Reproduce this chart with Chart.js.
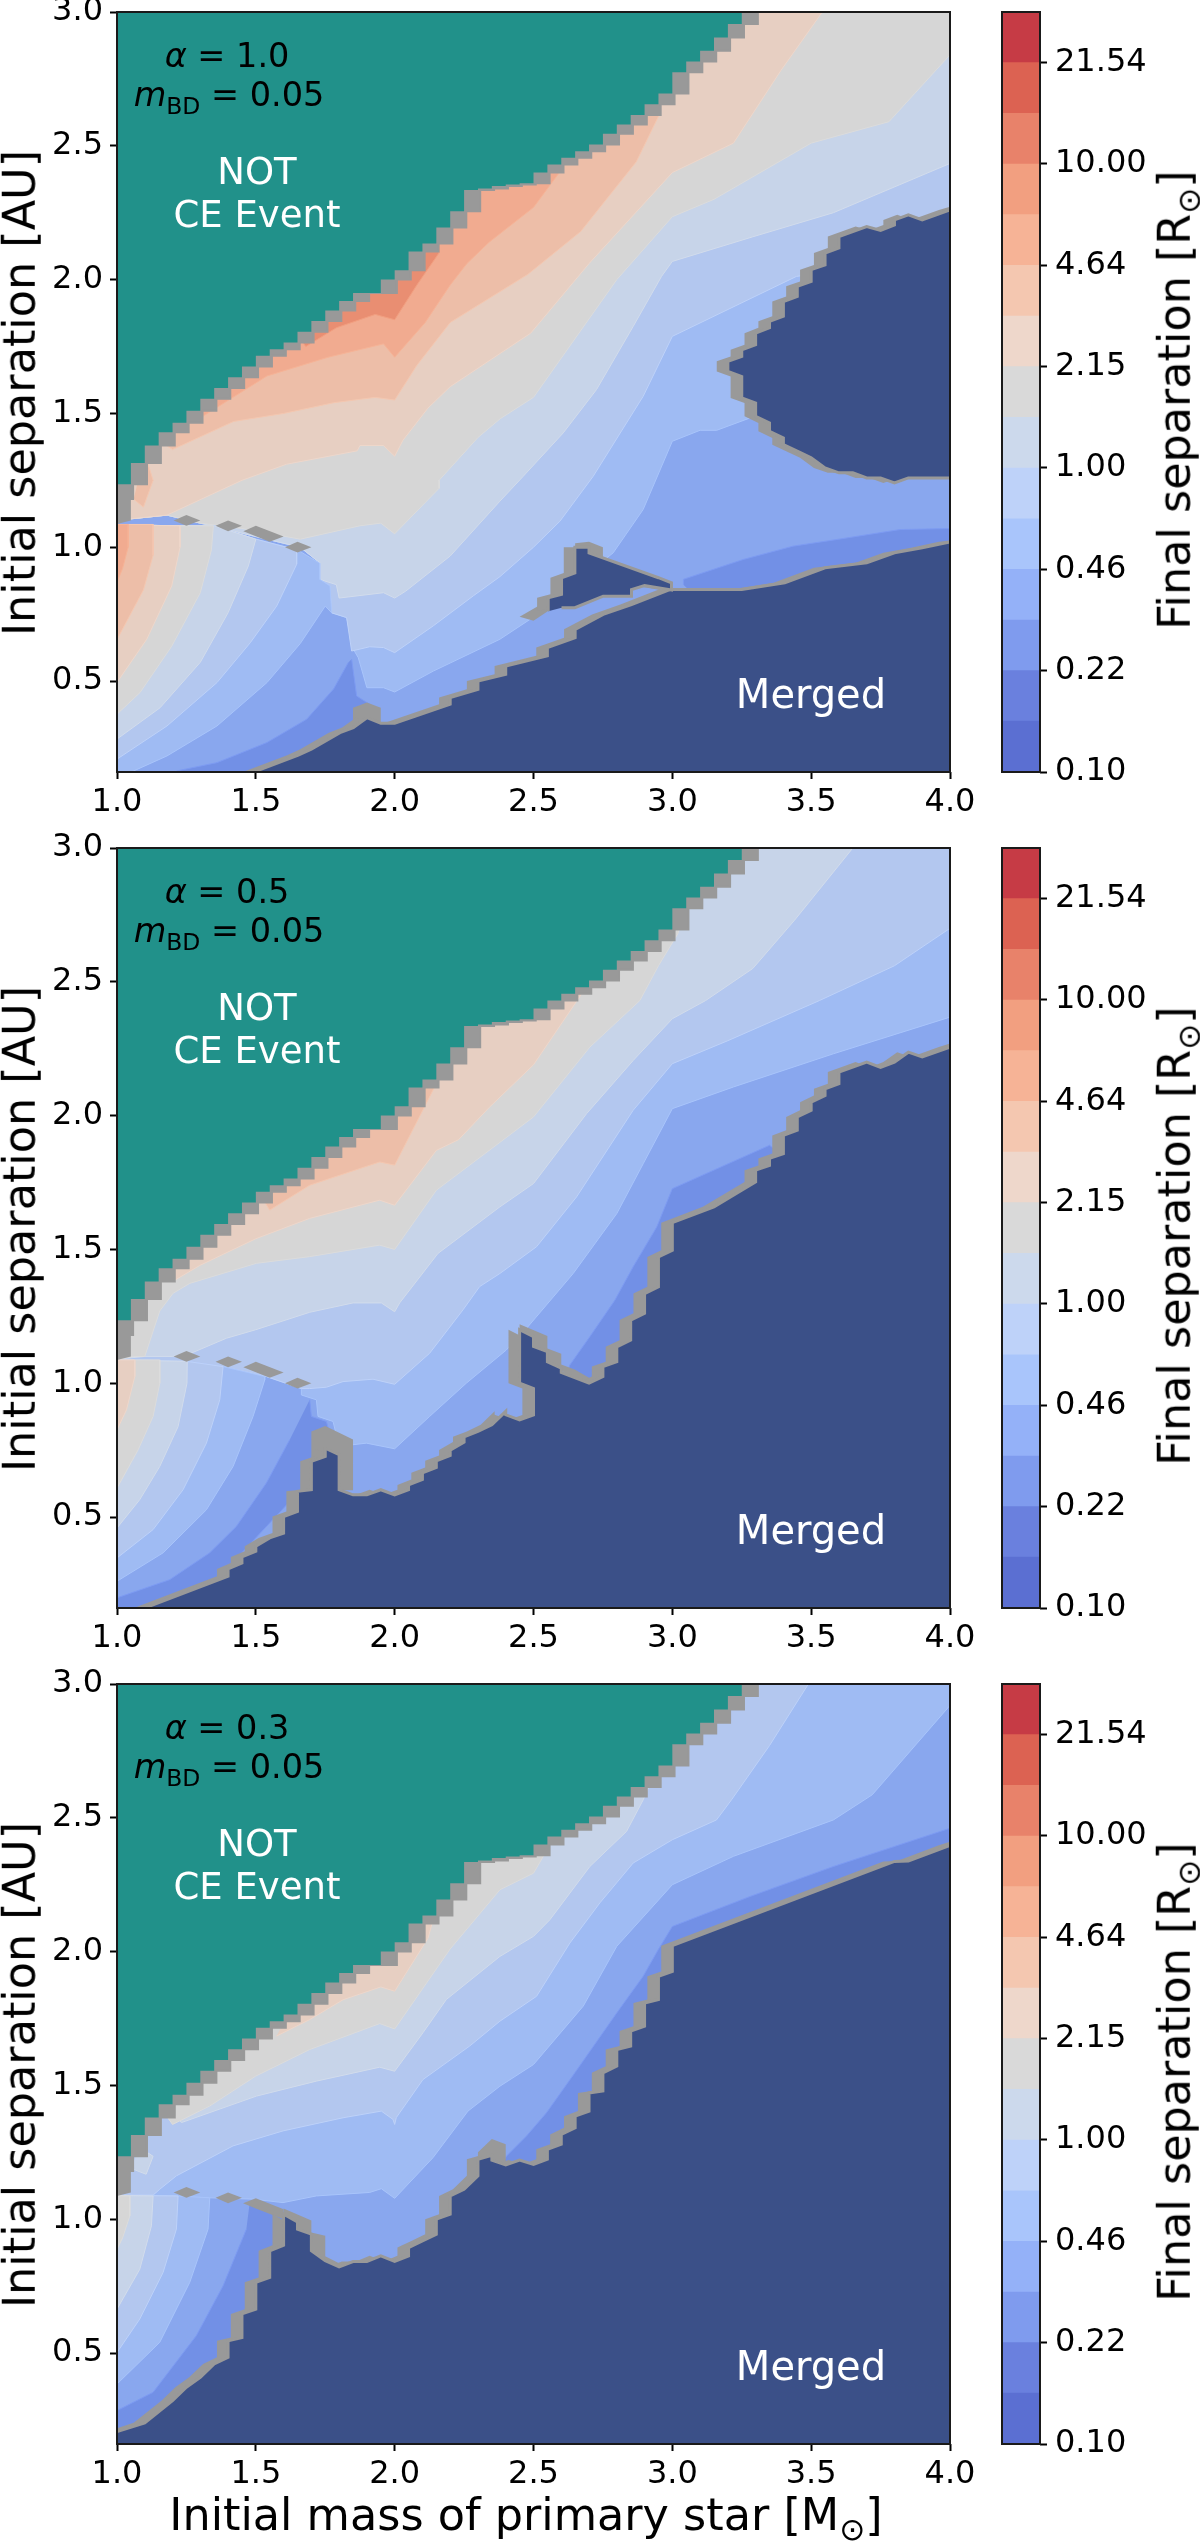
<!DOCTYPE html>
<html>
<head>
<meta charset="utf-8">
<title>Final separation</title>
<script src="https://cdn.jsdelivr.net/npm/chart.js@4"></script>
<style>
    html, body { margin: 0; padding: 0; background: #fff; }
    body { position: relative; width: 1200px; height: 2541px; overflow: hidden; font-family: 'DejaVu Sans', sans-serif; }
    canvas { position: absolute; }
    .txt { position: absolute; white-space: nowrap; line-height: 1; transform: translate(-50%, -50%); color: #000; }
    .rot { transform: translate(-50%, -50%) rotate(-90deg); }
    .lab { font-size: 44.5px; }
    .note { font-size: 33.5px; }
    .white { font-size: 37px; color: #fff; }
    .white2 { font-size: 40px; color: #fff; }
    sub { font-size: 0.7em; line-height: 0; }
</style>
</head>
<body>
<script>
// ticks
const xTicks = [1.0, 1.5, 2.0, 2.5, 3.0, 3.5, 4.0];
const yTicks = [0.5, 1.0, 1.5, 2.0, 2.5, 3.0];
const alphaValues = ['1.0', '0.5', '0.3'];

// colorbar
const cbarLevels = [0.1, 0.147, 0.2154, 0.316, 0.464, 0.681, 1.0, 1.468, 2.154, 3.162, 4.642, 6.813, 10.0, 14.68, 21.54, 31.62];
const cbarTickValues = [0.1, 0.2154, 0.464, 1.0, 2.154, 4.642, 10.0, 21.54];
const cbarTickLabels = ['0.10', '0.22', '0.46', '1.00', '2.15', '4.64', '10.00', '21.54'];

// edge of the region without a CE event, same in the three panels (mass, separation)
const notCeEdge = [[0.9,1.18],[1.0,1.18],[1.05,1.235],[1.1,1.315],[1.15,1.38],[1.2,1.43],[1.25,1.465],[1.3,1.51],[1.35,1.555],[1.4,1.595],[1.45,1.635],[1.5,1.675],[1.55,1.715],[1.6,1.74],[1.65,1.765],[1.7,1.805],[1.75,1.845],[1.8,1.885],[1.85,1.92],[1.9,1.95],[1.95,1.95],[2.0,2.0],[2.05,2.035],[2.1,2.105],[2.15,2.135],[2.2,2.195],[2.25,2.255],[2.3,2.335],[2.35,2.34],[2.4,2.35],[2.45,2.355],[2.5,2.36],[2.55,2.4],[2.6,2.43],[2.65,2.455],[2.7,2.48],[2.75,2.505],[2.8,2.545],[2.85,2.58],[2.9,2.615],[2.95,2.655],[3.0,2.695],[3.05,2.775],[3.1,2.815],[3.15,2.855],[3.2,2.905],[3.25,2.955],[3.3,3.0],[3.3,3.1],[0.9,3.1]];
const leftEdgeBlock = [[1.0,1.087],[1.05,1.10],[1.05,1.24],[1.0,1.18]];
const dashA = [[1.204,1.10],[1.25,1.12],[1.3,1.10],[1.25,1.08]];
const dashB = [[1.355,1.08],[1.4,1.10],[1.45,1.08],[1.4,1.06]];
const dashC = [[1.455,1.06],[1.5,1.08],[1.6,1.04],[1.55,1.02]];
const dashD = [[1.605,1.0],[1.65,1.02],[1.7,1.0],[1.65,0.98]];

// panel 1, alpha = 1.0
const p1Shelf3 = [[3.04,0.86],[3.04,0.88],[3.255,0.954],[3.435,1.004],[3.6,1.03],[3.82,1.066],[4.1,1.072],[4.1,0.9],[3.2,0.7]];
const p1Bowl3 = [[1.845,0.581],[1.863,0.444],[1.93,0.40],[1.9,0.3],[1.5,0.1],[1.215,0.1],[1.215,0.164],[1.36,0.195],[1.54,0.27],[1.683,0.357],[1.78,0.47],[1.833,0.569]];
const p1Up5 = [[4.1,1.5],[3.28,1.483],[3.16,1.437],[3.1,1.437],[3.0,1.396],[2.895,1.141],[2.787,0.979],[2.487,0.73],[2.379,0.656],[2.139,0.537],[2.0,0.459],[1.96,0.475],[1.90,0.475],[1.869,0.587],[1.851,0.619],[1.827,0.737],[1.773,0.755],[1.767,0.855],[1.73,0.88],[1.73,0.942],[1.66,1.0],[1.18,1.12],[0.9,1.09],[0.9,3.1],[4.1,3.1]];
const p1Up6 = [[4.1,2.1],[3.447,2.012],[3.0,1.788],[2.895,1.564],[2.715,1.265],[2.595,1.097],[2.5,1.0],[2.379,0.89],[2.283,0.818],[2.139,0.706],[2.0,0.606],[1.96,0.625],[1.91,0.628],[1.845,0.612],[1.827,0.737],[1.773,0.755],[1.767,0.855],[1.73,0.88],[1.73,0.942],[1.66,1.0],[1.18,1.12],[0.9,1.09],[0.9,3.1],[4.1,3.1]];
const p1Up7 = [[4.1,2.47],[4.0,2.434],[3.58,2.25],[3.29,2.16],[3.0,2.068],[2.961,2.012],[2.859,1.825],[2.727,1.589],[2.607,1.427],[2.463,1.265],[2.379,1.172],[2.2,0.967],[2.04,0.836],[2.0,0.81],[1.96,0.83],[1.80,0.81],[1.79,0.86],[1.73,0.88],[1.73,0.942],[1.66,1.0],[1.18,1.12],[0.9,1.09],[0.9,3.1],[4.1,3.1]];
const p1Up8 = [[4.1,2.95],[4.0,2.84],[3.78,2.59],[3.5,2.51],[3.15,2.30],[3.0,2.235],[2.80,2.0],[2.5,1.56],[2.38,1.48],[2.30,1.41],[2.16,1.25],[2.16,1.22],[2.0,1.05],[1.95,1.09],[1.875,1.08],[1.66,1.03],[1.45,1.07],[1.3,1.09],[1.18,1.12],[0.9,1.09],[0.9,3.1],[4.1,3.1]];
const p1Up9 = [[3.54,3.1],[3.54,3.0],[3.39,2.78],[3.22,2.51],[3.0,2.40],[2.7,2.06],[2.49,1.80],[2.2,1.60],[2.12,1.52],[2.03,1.40],[2.0,1.34],[1.96,1.38],[1.875,1.38],[1.865,1.36],[1.61,1.31],[1.45,1.25],[1.18,1.12],[0.9,1.09],[0.9,3.1]];
const p1Up10 = [[2.95,3.1],[2.95,2.61],[2.87,2.44],[2.67,2.18],[2.48,2.02],[2.2,1.84],[2.08,1.68],[2.0,1.55],[1.93,1.56],[1.78,1.54],[1.6,1.50],[1.42,1.47],[1.2,1.365],[1.15,1.4],[0.9,1.5],[0.9,3.1]];
const p1Spot10 = [[1.06,1.18],[1.095,1.15],[1.13,1.25],[1.1,1.35]];
const p1Up11 = [[2.6,3.1],[2.6,2.41],[2.5,2.27],[2.34,2.14],[2.26,2.06],[2.2,1.98],[2.11,1.84],[2.0,1.71],[1.96,1.76],[1.76,1.71],[1.54,1.64],[1.31,1.49],[1.0,1.4],[0.9,3.1]];
const p1Up12 = [[2.16,3.1],[2.16,2.10],[2.08,1.98],[2.0,1.85],[1.93,1.87],[1.79,1.82],[1.68,1.75],[1.5,2.0],[1.5,3.1]];
const p1Low5 = [[0.9,1.085],[1.23,1.08],[1.35,1.08],[1.5,1.03],[1.65,0.99],[1.73,0.94],[1.73,0.88],[1.767,0.855],[1.773,0.755],[1.75,0.78],[1.66,0.64],[1.54,0.494],[1.36,0.332],[1.18,0.22],[1.06,0.164],[0.9,0.1]];
const p1Low6 = [[0.9,1.085],[1.23,1.08],[1.35,1.08],[1.5,1.03],[1.647,0.99],[1.647,0.936],[1.575,0.78],[1.48,0.643],[1.36,0.494],[1.18,0.332],[1.0,0.208],[0.9,0.15]];
const p1Low7 = [[0.9,1.085],[1.23,1.08],[1.35,1.08],[1.5,1.03],[1.473,0.93],[1.40,0.755],[1.30,0.57],[1.155,0.40],[1.0,0.283],[0.9,0.23]];
const p1Low8 = [[0.9,1.085],[1.23,1.08],[1.347,1.08],[1.34,0.99],[1.30,0.83],[1.197,0.63],[1.083,0.457],[1.0,0.376],[0.9,0.3]];
const p1Low9 = [[0.9,1.085],[1.227,1.08],[1.227,1.0],[1.197,0.855],[1.107,0.656],[1.0,0.495],[0.9,0.38]];
const p1Low10 = [[0.9,1.085],[1.13,1.085],[1.13,0.97],[1.095,0.84],[1.0,0.655],[0.9,0.5]];
const p1Low11 = [[0.9,1.085],[1.04,1.085],[1.04,1.0],[1.02,0.92],[1.0,0.87],[0.9,0.75]];
const p1Bump = [[1.85,0.33],[1.85,0.40],[1.9,0.42],[1.95,0.40],[1.95,0.34]];
const p1Tail = [[2.45,0.74],[2.55,0.80],[2.55,0.76],[2.5,0.725]];
const p1Cap = [[2.65,1.015],[2.7,1.02],[2.75,1.0],[2.75,0.95],[2.65,0.95]];
const p1Merged = [[1.4,0.12],[1.503,0.164],[1.653,0.223],[1.70,0.245],[1.803,0.307],[1.851,0.326],[1.90,0.363],[1.95,0.342],[2.0,0.342],[2.2,0.413],[2.2,0.438],[2.3,0.469],[2.3,0.50],[2.4,0.525],[2.4,0.556],[2.55,0.594],[2.55,0.625],[2.65,0.662],[2.65,0.693],[2.751,0.749],[2.853,0.786],[2.991,0.842],[3.045,0.842],[3.25,0.842],[3.405,0.867],[3.55,0.923],[3.70,0.942],[3.80,0.979],[3.90,0.998],[4.0,1.02],[4.1,1.03],[4.1,0.1],[1.4,0.1]];
const p1Triangle = [[2.553,0.761],[2.553,0.811],[2.601,0.824],[2.601,0.886],[2.649,0.904],[2.649,1.0],[2.70,1.0],[2.70,0.979],[2.95,0.886],[2.997,0.867],[2.997,0.84],[2.9,0.857],[2.853,0.842],[2.853,0.817],[2.751,0.817],[2.649,0.774],[2.601,0.774]];
const p1Blob = [[4.1,2.29],[4.0,2.26],[3.90,2.223],[3.85,2.242],[3.80,2.223],[3.80,2.204],[3.75,2.184],[3.70,2.198],[3.60,2.161],[3.60,2.118],[3.55,2.099],[3.55,2.055],[3.50,2.037],[3.50,1.993],[3.45,1.975],[3.45,1.937],[3.40,1.918],[3.40,1.863],[3.35,1.844],[3.35,1.82],[3.30,1.80],[3.30,1.757],[3.25,1.738],[3.25,1.713],[3.20,1.695],[3.20,1.657],[3.25,1.638],[3.25,1.558],[3.30,1.539],[3.30,1.489],[3.35,1.464],[3.35,1.433],[3.40,1.408],[3.40,1.383],[3.45,1.359],[3.50,1.334],[3.55,1.296],[3.60,1.278],[3.65,1.278],[3.70,1.259],[3.75,1.259],[3.80,1.24],[3.85,1.259],[4.0,1.259],[4.1,1.26]];

// panel 2, alpha = 0.5
const p2Shelf3 = [[2.62,1.04],[2.631,1.068],[2.703,1.174],[2.793,1.31],[2.859,1.435],[2.944,1.584],[3.0,1.727],[3.35,1.889],[3.4,1.85],[3.0,1.4],[2.7,0.95]];
const p2Bowl3 = [[1.694,0.938],[1.7,0.876],[1.754,0.857],[1.766,0.813],[1.75,0.7],[1.3,0.2],[1.0,0.1],[0.9,0.15],[1.0,0.198],[1.19,0.266],[1.334,0.366],[1.43,0.465],[1.538,0.627],[1.622,0.789]];
const p2Up5 = [[4.1,2.4],[4.0,2.368],[3.58,2.231],[3.22,2.107],[3.0,2.026],[2.895,1.82],[2.8,1.634],[2.643,1.41],[2.475,1.205],[2.402,1.124],[2.258,1.0],[2.126,0.876],[2.0,0.755],[1.898,0.776],[1.80,0.764],[1.778,0.857],[1.724,0.876],[1.718,0.938],[1.664,0.956],[1.664,0.98],[1.538,1.025],[1.382,1.062],[1.262,1.08],[1.0,1.09],[0.9,1.09],[0.9,3.1],[4.1,3.1]];
const p2Up6 = [[4.1,2.8],[4.0,2.70],[3.8,2.56],[3.53,2.43],[3.2,2.28],[3.0,2.194],[2.859,2.02],[2.655,1.696],[2.511,1.51],[2.379,1.41],[2.306,1.361],[2.246,1.274],[2.126,1.112],[2.0,0.996],[1.922,1.015],[1.814,1.006],[1.754,0.985],[1.694,0.98],[1.664,0.98],[1.538,1.025],[1.382,1.062],[1.262,1.08],[1.0,1.09],[0.9,1.09],[0.9,3.1],[4.1,3.1]];
const p2Up7 = [[3.65,3.1],[3.65,3.0],[3.44,2.73],[3.29,2.55],[3.12,2.43],[3.0,2.362],[2.859,2.206],[2.691,2.007],[2.5,1.746],[2.379,1.659],[2.156,1.485],[2.018,1.30],[2.0,1.267],[1.952,1.30],[1.85,1.30],[1.694,1.265],[1.5,1.2],[1.394,1.168],[1.262,1.11],[1.2,1.10],[1.1,1.10],[1.0,1.09],[0.9,1.09],[0.9,3.1]];
const p2Up8 = [[3.05,3.1],[3.05,2.8],[3.02,2.68],[2.95,2.56],[2.883,2.43],[2.703,2.256],[2.5,1.995],[2.379,1.9],[2.15,1.721],[2.0,1.5],[1.946,1.516],[1.694,1.473],[1.502,1.448],[1.262,1.373],[1.202,1.336],[1.154,1.27],[1.1,1.10],[1.06,1.1],[1.0,1.09],[0.9,1.09],[0.9,3.1]];
const p2Up9 = [[2.7,3.1],[2.7,2.55],[2.67,2.45],[2.5,2.19],[2.34,2.03],[2.23,1.91],[2.15,1.87],[2.0,1.665],[1.946,1.684],[1.694,1.616],[1.5,1.54],[1.298,1.44],[1.2,1.38],[1.1,1.4],[0.9,1.5],[0.9,3.1]];
const p2Up10 = [[2.2,3.1],[2.16,2.14],[2.0,1.815],[1.946,1.827],[1.694,1.74],[1.55,1.647],[1.4,1.9],[1.4,3.1]];
const p2Low5 = [[0.9,1.087],[1.262,1.08],[1.382,1.062],[1.532,1.025],[1.532,1.012],[1.49,0.876],[1.418,0.689],[1.322,0.527],[1.166,0.366],[1.0,0.26],[0.9,0.2]];
const p2Low6 = [[0.9,1.087],[1.262,1.08],[1.382,1.062],[1.37,0.938],[1.322,0.776],[1.238,0.602],[1.13,0.453],[1.0,0.347],[0.9,0.28]];
const p2Low7 = [[0.9,1.087],[1.253,1.082],[1.252,1.0],[1.22,0.838],[1.154,0.689],[1.082,0.565],[1.0,0.459],[0.9,0.38]];
const p2Low8 = [[0.9,1.087],[1.154,1.087],[1.154,1.0],[1.13,0.876],[1.076,0.751],[1.0,0.608],[0.9,0.45]];
const p2Low9 = [[0.9,1.087],[1.064,1.087],[1.064,1.025],[1.034,0.90],[1.0,0.826],[0.9,0.65]];
const p2Peak = [[1.7,0.7],[1.7,0.82],[1.75,0.84],[1.85,0.79],[1.85,0.6],[1.8,0.6]];
const p2Spike = [[2.45,1.22],[2.55,1.176],[2.55,1.13],[2.6,1.11],[2.6,1.07],[2.65,1.05],[2.7,1.02],[2.7,0.98],[2.45,1.15]];
const p2Merged = [[1.0,0.1],[1.11,0.164],[1.4,0.279],[1.4,0.306],[1.45,0.328],[1.45,0.351],[1.5,0.372],[1.5,0.391],[1.55,0.422],[1.6,0.44],[1.6,0.502],[1.65,0.521],[1.65,0.596],[1.7,0.602],[1.7,0.708],[1.75,0.726],[1.75,0.757],[1.8,0.733],[1.8,0.602],[1.85,0.583],[1.9,0.583],[1.95,0.602],[2.0,0.583],[2.05,0.602],[2.05,0.62],[2.1,0.64],[2.1,0.665],[2.15,0.685],[2.15,0.71],[2.2,0.73],[2.2,0.75],[2.25,0.78],[2.25,0.8],[2.3,0.82],[2.35,0.845],[2.4,0.895],[2.4,0.882],[2.45,0.863],[2.5,0.881],[2.5,0.98],[2.45,1.0],[2.45,1.20],[2.5,1.174],[2.5,1.137],[2.55,1.118],[2.55,1.08],[2.6,1.056],[2.6,1.04],[2.70,1.0],[2.75,1.025],[2.75,1.062],[2.80,1.08],[2.80,1.136],[2.85,1.161],[2.85,1.236],[2.9,1.261],[2.9,1.335],[2.95,1.36],[2.95,1.472],[3.0,1.497],[3.0,1.60],[3.15,1.659],[3.25,1.721],[3.3,1.752],[3.3,1.796],[3.35,1.814],[3.35,1.84],[3.4,1.858],[3.4,1.926],[3.45,1.945],[3.45,1.995],[3.5,2.02],[3.5,2.05],[3.55,2.075],[3.55,2.1],[3.6,2.119],[3.6,2.163],[3.7,2.2],[3.75,2.18],[3.8,2.2],[3.85,2.237],[3.9,2.219],[4.0,2.256],[4.1,2.29],[4.1,0.1]];

// panel 3, alpha = 0.3
const p3Shelf3 = [[2.38,1.2],[2.403,1.236],[2.475,1.311],[2.547,1.398],[2.649,1.547],[2.8,1.771],[2.895,1.908],[2.949,2.007],[3.0,2.094],[3.28,2.206],[3.58,2.318],[4.0,2.461],[4.1,2.49],[4.1,2.2],[3.0,1.8],[2.6,1.1]];
const p3Bowl3 = [[1.478,1.062],[1.6,1.03],[1.6,0.9],[1.3,0.2],[0.9,0.1],[0.9,0.25],[1.0,0.285],[1.13,0.353],[1.286,0.565],[1.382,0.751],[1.466,0.963]];
const p3Up5 = [[4.1,3.0],[4.0,2.92],[3.72,2.586],[3.58,2.492],[3.22,2.356],[3.0,2.25],[2.8,2.02],[2.679,1.796],[2.5,1.578],[2.379,1.497],[2.264,1.404],[2.138,1.23],[2.0,1.078],[1.952,1.114],[1.91,1.1],[1.718,1.087],[1.598,1.062],[1.49,1.075],[1.334,1.08],[0.9,1.09],[0.9,3.1],[4.1,3.1]];
const p3Up6 = [[3.49,3.1],[3.49,3.0],[3.35,2.77],[3.213,2.567],[3.159,2.492],[3.0,2.418],[2.859,2.331],[2.739,2.182],[2.631,2.032],[2.511,1.833],[2.379,1.74],[2.27,1.647],[2.102,1.522],[2.006,1.38],[2.0,1.354],[1.994,1.373],[1.952,1.404],[1.814,1.379],[1.598,1.33],[1.418,1.274],[1.214,1.162],[1.154,1.112],[1.13,1.09],[0.9,1.09],[0.9,3.1]];
const p3Up7 = [[2.95,3.1],[2.95,2.7],[2.895,2.567],[2.835,2.449],[2.703,2.318],[2.559,2.119],[2.5,2.057],[2.379,1.982],[2.186,1.821],[2.102,1.697],[2.0,1.553],[1.946,1.568],[1.718,1.516],[1.502,1.46],[1.232,1.361],[1.2,1.40],[1.1,1.5],[0.9,1.6],[0.9,3.1]];
const p3Spot7 = [[1.05,1.19],[1.105,1.168],[1.13,1.235],[1.08,1.27]];
const p3Up8 = [[2.6,3.1],[2.56,2.4],[2.5,2.293],[2.379,2.231],[2.2,2.01],[2.0,1.711],[1.946,1.731],[1.694,1.634],[1.5,1.535],[1.334,1.423],[1.2,1.354],[1.1,1.5],[0.9,1.6],[0.9,3.1]];
const p3Up9 = [[1.574,1.684],[1.694,1.746],[1.814,1.82],[1.95,1.868],[2.0,1.852],[2.12,2.05],[2.16,2.2],[1.9,2.3]];
const p3Low5 = [[0.9,1.09],[1.22,1.087],[1.334,1.08],[1.328,0.963],[1.262,0.764],[1.154,0.54],[1.0,0.384],[0.9,0.3]];
const p3Low6 = [[0.9,1.09],[1.22,1.087],[1.214,0.963],[1.166,0.801],[1.082,0.627],[1.0,0.502],[0.9,0.4]];
const p3Low7 = [[0.9,1.09],[1.13,1.087],[1.124,0.975],[1.082,0.813],[1.0,0.664],[0.9,0.5]];
const p3Low8 = [[0.9,1.09],[1.046,1.087],[1.046,1.012],[1.02,0.93],[1.0,0.888],[0.9,0.7]];
const p3Wedge = [[1.454,1.06],[1.5,1.078],[1.6,1.037],[1.6,1.0],[1.5,1.04]];
const p3Slope = [[1.6,1.04],[1.7,0.995],[1.7,0.95],[1.75,0.938],[1.75,0.862],[1.8,0.835],[1.8,0.8],[1.6,0.95]];
const p3Cap = [[2.3,1.25],[2.35,1.3],[2.4,1.28],[2.4,1.2],[2.3,1.2]];
const p3Merged = [[0.9,0.17],[1.0,0.206],[1.1,0.239],[1.2,0.322],[1.25,0.372],[1.3,0.409],[1.35,0.459],[1.4,0.484],[1.4,0.546],[1.45,0.558],[1.45,0.646],[1.5,0.664],[1.5,0.764],[1.55,0.782],[1.55,0.882],[1.6,0.903],[1.6,1.019],[1.65,0.99],[1.65,0.963],[1.7,0.944],[1.7,0.882],[1.75,0.845],[1.8,0.822],[1.85,0.842],[1.9,0.842],[1.95,0.863],[2.0,0.842],[2.05,0.863],[2.05,0.894],[2.1,0.919],[2.15,0.944],[2.15,1.0],[2.2,1.019],[2.2,1.087],[2.25,1.112],[2.3,1.162],[2.3,1.224],[2.35,1.239],[2.35,1.221],[2.4,1.203],[2.45,1.221],[2.5,1.205],[2.55,1.224],[2.55,1.261],[2.6,1.28],[2.6,1.317],[2.65,1.342],[2.65,1.385],[2.7,1.404],[2.7,1.472],[2.75,1.479],[2.75,1.547],[2.8,1.572],[2.8,1.634],[2.85,1.647],[2.85,1.703],[2.9,1.721],[2.9,1.808],[2.95,1.821],[2.95,1.908],[3.0,1.926],[3.0,2.022],[3.8,2.337],[3.85,2.339],[4.0,2.397],[4.1,2.43],[4.1,0.1],[0.9,0.1]];

// colores
const teal = '#21918a';
const navy = '#3b5088';
const edgeGray = '#999999';
const fills = { 3: '#7290e6', 4: '#89a7ee', 5: '#9fbbf3', 6: '#b3c7ef', 7: '#c7d4e9', 8: '#d6d6d6', 9: '#e7cfc2', 10: '#edbea8', 11: '#f1ab90', 12: '#e98e72' };
const strokes = { 3: '#7d9bf2', 4: '#92b0f8', 5: '#a9c5fb', 6: '#bed2f9', 7: '#d2dcec', 8: '#dcdcdc', 9: '#eed7cb', 10: '#f4c7b0', 11: '#f6b396', 12: '#f29f80' };
const cbarColors = ['#5b6fd2', '#6a80de', '#7f9bee', '#94b1f8', '#a9c5fb', '#bed2f9', '#ccd9ec', '#d9d9d9', '#eed7cb', '#f4c7b0', '#f6b396', '#f29f80', '#e8826a', '#dc6252', '#c63b45'];

const panels = [
    { top: 12, base: 4, bands: [[3,p1Shelf3],[3,p1Bowl3],[5,p1Up5],[6,p1Up6],[7,p1Up7],[8,p1Up8],[9,p1Up9],[10,p1Up10],[10,p1Spot10],[11,p1Up11],[12,p1Up12],[5,p1Low5],[6,p1Low6],[7,p1Low7],[8,p1Low8],[9,p1Low9],[10,p1Low10],[11,p1Low11]],
      bits: [leftEdgeBlock,dashA,dashB,dashC,dashD,p1Bump,p1Tail,p1Cap], merged: [p1Merged,p1Triangle,p1Blob] },
    { top: 848, base: 4, bands: [[3,p2Shelf3],[3,p2Bowl3],[5,p2Up5],[6,p2Up6],[7,p2Up7],[8,p2Up8],[9,p2Up9],[10,p2Up10],[5,p2Low5],[6,p2Low6],[7,p2Low7],[8,p2Low8],[9,p2Low9]],
      bits: [leftEdgeBlock,dashA,dashB,dashC,dashD,p2Peak,p2Spike], merged: [p2Merged] },
    { top: 1684, base: 4, bands: [[3,p3Shelf3],[3,p3Bowl3],[5,p3Up5],[6,p3Up6],[7,p3Up7],[7,p3Spot7],[8,p3Up8],[9,p3Up9],[5,p3Low5],[6,p3Low6],[7,p3Low7],[8,p3Low8]],
      bits: [leftEdgeBlock,dashA,dashB,p3Wedge,p3Slope,p3Cap], merged: [p3Merged] }
];

Chart.defaults.font.family = "'DejaVu Sans', sans-serif";
Chart.defaults.font.size = 32;
Chart.defaults.color = '#000';

// espaco acima da area do grafico, maior que meia etiqueta + padding do tick
const PAD = 32;

// caixa preta em volta da area do grafico
const framePlugin = {
    id: 'frame',
    afterDraw(chart) {
        const a = chart.chartArea;
        const ctx = chart.ctx;
        ctx.save();
        ctx.strokeStyle = '#1a1a1a';
        ctx.lineWidth = 2;
        ctx.strokeRect(a.left, a.top, a.right - a.left, a.bottom - a.top);
        ctx.restore();
    }
};

// poligono preenchido
function polygon(points, color, stroke, strokeWidth, stepped) {
    return {
        data: points.map(p => ({ x: p[0], y: p[1] })),
        fill: 'shape',
        backgroundColor: color,
        borderColor: stroke || color,
        borderWidth: strokeWidth || 0,
        pointRadius: 0,
        tension: 0,
        stepped: stepped || false,
        clip: 0
    };
}

function addCanvas(left, top, width, height) {
    const c = document.createElement('canvas');
    c.width = width;
    c.height = height;
    c.style.left = left + 'px';
    c.style.top = top + 'px';
    c.style.width = width + 'px';
    c.style.height = height + 'px';
    document.body.appendChild(c);
    return c;
}

function addText(html, x, y, cls) {
    const d = document.createElement('div');
    d.className = 'txt ' + cls;
    d.style.left = x + 'px';
    d.style.top = y + 'px';
    d.innerHTML = html;
    document.body.appendChild(d);
}

const tickGrid = { drawOnChartArea: false, drawTicks: true, tickLength: 7, tickWidth: 2, tickColor: '#000' };

function drawPanel(panel) {
    const sets = [];
    // fundo da regiao
    sets.push(polygon([[0.9,0.1],[4.1,0.1],[4.1,3.1],[0.9,3.1]], fills[panel.base]));
    panel.bands.forEach(b => sets.push(polygon(b[1], fills[b[0]], strokes[b[0]], 1)));
    // borda cinza do Merged: mesmo contorno deslocado
    panel.bits.forEach(b => sets.push(polygon(b, edgeGray)));
    panel.merged.forEach(m => sets.push(polygon(m.map(p => [p[0] - 0.04, p[1]]), edgeGray)));
    panel.merged.forEach(m => sets.push(polygon(m, navy, edgeGray, 3)));
    sets.push(polygon(notCeEdge.map(p => [p[0] + 0.058, p[1]]), edgeGray, edgeGray, 2, 'after'));
    sets.push(polygon(notCeEdge, teal, teal, 0, 'after'));
    // primeiro dataset fica por cima no Chart.js
    sets.forEach((s, i) => { s.order = sets.length - i; });

    const canvas = addCanvas(0, panel.top - PAD, 1000, PAD + 760 + 60);
    new Chart(canvas, {
        type: 'line',
        data: { datasets: sets },
        options: {
            responsive: false,
            animation: false,
            events: [],
            layout: { padding: { top: PAD, right: 50, left: 0, bottom: 0 } },
            plugins: { legend: { display: false }, tooltip: { enabled: false } },
            scales: {
                x: {
                    type: 'linear', min: 1, max: 4,
                    afterBuildTicks: s => { s.ticks = xTicks.map(v => ({ value: v })); },
                    afterFit: s => { s.height = 60; },
                    ticks: { autoSkip: false, maxRotation: 0, padding: 4, callback: v => v.toFixed(1) },
                    border: { display: false },
                    grid: tickGrid
                },
                y: {
                    type: 'linear', min: 0.16, max: 3,
                    afterBuildTicks: s => { s.ticks = yTicks.map(v => ({ value: v })); },
                    afterFit: s => { s.width = 117; },
                    ticks: { autoSkip: false, padding: 7, callback: v => v.toFixed(1) },
                    border: { display: false },
                    grid: tickGrid
                }
            }
        },
        plugins: [framePlugin]
    });
}

function drawColorbar(top) {
    const canvas = addCanvas(990, top - PAD, 210, PAD + 760 + PAD);
    new Chart(canvas, {
        type: 'bar',
        data: {
            labels: [''],
            datasets: cbarColors.map((c, i) => ({
                data: [[cbarLevels[i], cbarLevels[i + 1]]],
                backgroundColor: c,
                borderWidth: 0,
                grouped: false,
                categoryPercentage: 1,
                barPercentage: 1
            }))
        },
        options: {
            responsive: false,
            animation: false,
            events: [],
            layout: { padding: { top: PAD, bottom: PAD, left: 12, right: 0 } },
            plugins: { legend: { display: false }, tooltip: { enabled: false } },
            scales: {
                x: { display: false },
                y: {
                    type: 'logarithmic', position: 'right', min: 0.1, max: 31.62,
                    afterBuildTicks: s => { s.ticks = cbarTickValues.map(v => ({ value: v })); },
                    afterFit: s => { s.width = 160; },
                    ticks: { autoSkip: false, padding: 8, callback: (v, i) => cbarTickLabels[i] },
                    border: { display: false },
                    grid: tickGrid
                }
            }
        },
        plugins: [framePlugin]
    });
}

panels.forEach((panel, i) => {
    drawPanel(panel);
    drawColorbar(panel.top);
    const t = panel.top;
    addText('Initial separation [AU]', 20, t + 381, 'lab rot');
    addText('Final separation [R<sub>\u2299</sub>]', 1175, t + 388, 'lab rot');
    addText('<i>\u03B1</i> = ' + alphaValues[i], 227, t + 44, 'note');
    addText('<i>m</i><sub>BD</sub> = 0.05', 229, t + 83, 'note');
    addText('NOT', 257, t + 159, 'white');
    addText('CE Event', 257, t + 202, 'white');
    addText('Merged', 811, t + 682, 'white2');
});
addText('Initial mass of primary star [M<sub>\u2299</sub>]', 526, 2515, 'lab');
</script>
</body>
</html>
